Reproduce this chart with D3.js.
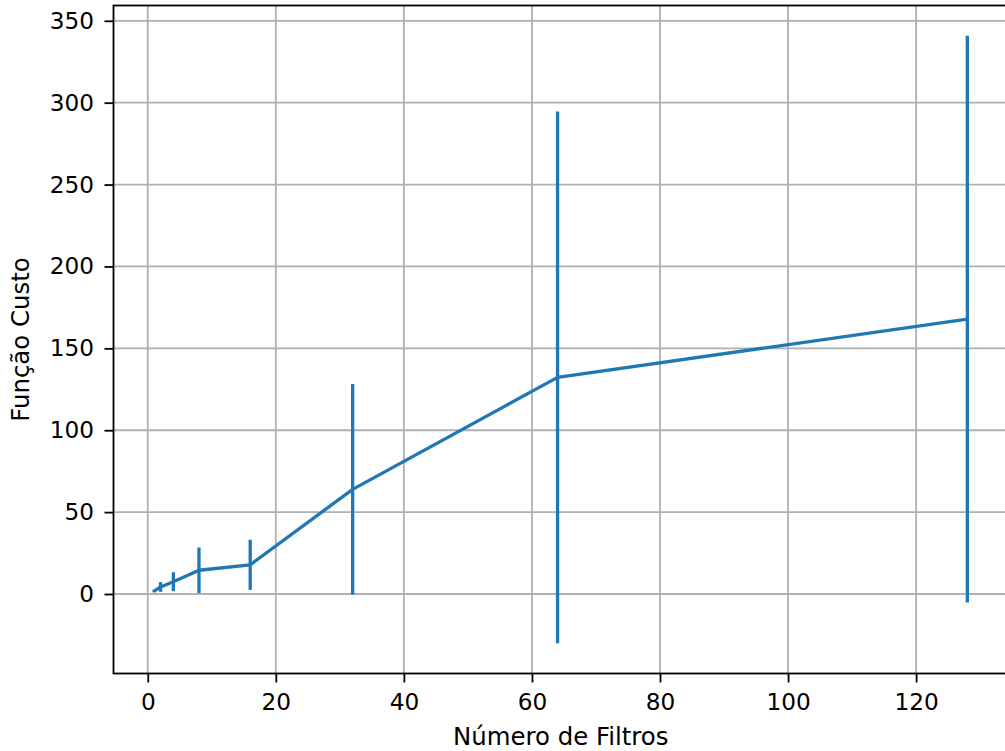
<!DOCTYPE html>
<html>
<head>
<meta charset="utf-8">
<script src="https://cdn.jsdelivr.net/npm/d3@7"></script>
<style>
  html, body { margin: 0; padding: 0; background: #fff; }
  svg { display: block; }
  text { font-family: "DejaVu Sans", sans-serif; fill: #000; }
</style>
</head>
<body>
<script>
// Number of filters and the mean / std of the cost function for each
const filtros = [1, 2, 4, 8, 16, 32, 64, 128];
const custoMedio = [1.8, 4.3, 7.5, 14.5, 17.8, 63.9, 132.3, 167.8];
const custoDesvio = [0.8, 3.0, 5.8, 13.9, 15.3, 64.3, 162.3, 173.0];
const xTicks = [0, 20, 40, 60, 80, 100, 120];
const yTicks = [0, 50, 100, 150, 200, 250, 300, 350];

const W = 1005, H = 751;
const plot = { left: 113.5, top: 5.5, right: 1008, bottom: 673.5 };
const color = "#1f77b4";
const tickFont = 23.2;
const labelFont = 24.4;

const svg = d3.select("body").append("svg").attr("width", W).attr("height", H);

// Axis limits with a 5% margin on each side of the data
const xMin = d3.min(filtros), xMax = d3.max(filtros);
const xPad = (xMax - xMin) * 0.05;
const lows = custoMedio.map((m, i) => m - custoDesvio[i]);
const highs = custoMedio.map((m, i) => m + custoDesvio[i]);
const yMin = d3.min(lows), yMax = d3.max(highs);
const yPad = (yMax - yMin) * 0.05;

const x = d3.scaleLinear().domain([xMin - xPad, xMax + xPad]).range([plot.left, plot.right]);
const y = d3.scaleLinear().domain([yMin - yPad, yMax + yPad]).range([plot.bottom, plot.top]);

// Grid
const grid = svg.append("g");
grid.selectAll("line.gx").data(xTicks).join("line")
  .attr("x1", d => x(d)).attr("x2", d => x(d))
  .attr("y1", plot.top).attr("y2", plot.bottom)
  .attr("stroke", "#b0b0b0").attr("stroke-width", 1.8);
grid.selectAll("line.gy").data(yTicks).join("line")
  .attr("y1", d => y(d)).attr("y2", d => y(d))
  .attr("x1", plot.left).attr("x2", plot.right)
  .attr("stroke", "#b0b0b0").attr("stroke-width", 1.8);

// Mean line and error bars
const data = filtros.map((f, i) => ({ f, m: custoMedio[i], s: custoDesvio[i] }));
svg.append("path")
  .datum(data)
  .attr("fill", "none").attr("stroke", color).attr("stroke-width", 3.3)
  .attr("stroke-linejoin", "round")
  .attr("d", d3.line().x(d => x(d.f)).y(d => y(d.m)));
svg.append("g").selectAll("line").data(data).join("line")
  .attr("x1", d => x(d.f)).attr("x2", d => x(d.f))
  .attr("y1", d => y(d.m - d.s)).attr("y2", d => y(d.m + d.s))
  .attr("stroke", color).attr("stroke-width", 3.3);

// Axes
const xAxis = d3.axisBottom(x).tickValues(xTicks).tickSize(9).tickPadding(11);
const yAxis = d3.axisLeft(y).tickValues(yTicks).tickSize(9).tickPadding(10.5);

const gx = svg.append("g").attr("transform", `translate(0,${plot.bottom})`).call(xAxis);
const gy = svg.append("g").attr("transform", `translate(${plot.left},0)`).call(yAxis);
[gx, gy].forEach(g => {
  g.attr("font-size", tickFont).attr("font-family", "DejaVu Sans, sans-serif");
  g.select(".domain").remove();
  g.selectAll(".tick line").attr("stroke", "#000").attr("stroke-width", 1.8);
  g.selectAll(".tick text").attr("fill", "#222");
});

// Frame
svg.append("rect")
  .attr("x", plot.left).attr("y", plot.top)
  .attr("width", plot.right - plot.left).attr("height", plot.bottom - plot.top)
  .attr("fill", "none").attr("stroke", "#000").attr("stroke-width", 1.8);

// Labels
svg.append("text")
  .attr("x", (plot.left + plot.right) / 2).attr("y", 745)
  .attr("text-anchor", "middle").attr("font-size", labelFont).attr("fill", "#222")
  .text("Número de Filtros");
svg.append("text")
  .attr("transform", `translate(29,${(plot.top + plot.bottom) / 2}) rotate(-90)`)
  .attr("text-anchor", "middle").attr("font-size", labelFont).attr("fill", "#222")
  .text("Função Custo");
</script>
</body>
</html>
